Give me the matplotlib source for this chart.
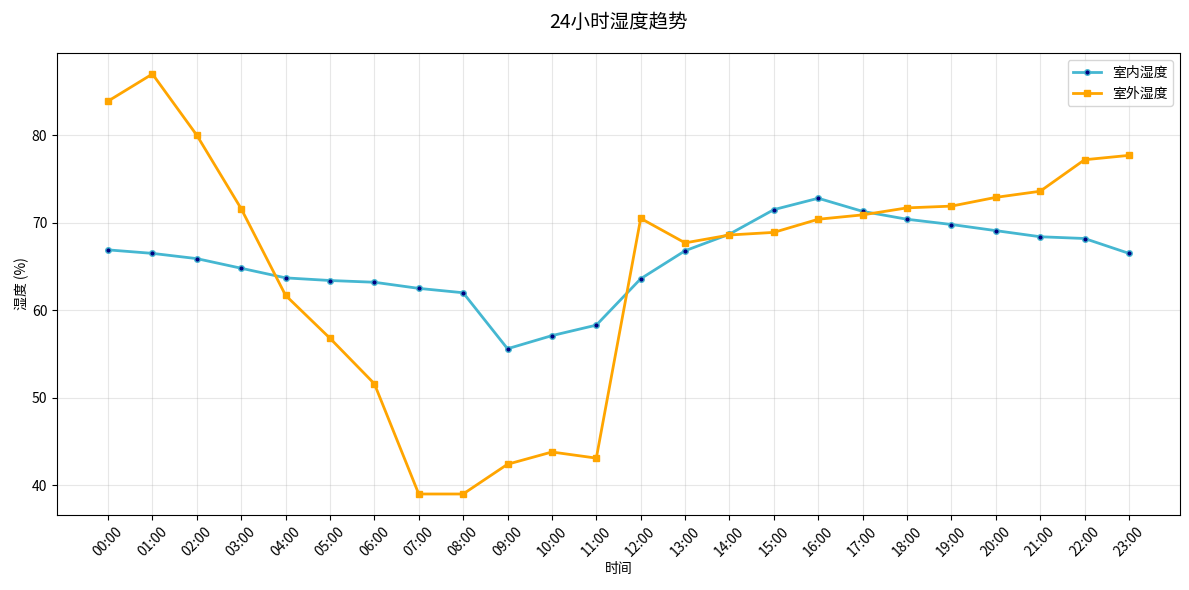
import matplotlib
matplotlib.use("Agg")
import matplotlib.pyplot as plt

plt.rcParams['font.family'] = ['Noto Sans CJK SC', 'DejaVu Sans']
plt.rcParams['axes.unicode_minus'] = False

hours = [f"{h:02d}:00" for h in range(24)]
indoor = [66.9, 66.5, 65.9, 64.8, 63.7, 63.4, 63.2, 62.5, 62.0, 55.6, 57.1, 58.3,
          63.6, 66.8, 68.7, 71.5, 72.8, 71.3, 70.4, 69.8, 69.1, 68.4, 68.2, 66.5]
outdoor = [83.9, 87.0, 80.0, 71.6, 61.7, 56.8, 51.6, 39.0, 39.0, 42.4, 43.8, 43.1,
           70.5, 67.7, 68.6, 68.9, 70.4, 70.9, 71.7, 71.9, 72.9, 73.6, 77.2, 77.7]

fig, ax = plt.subplots(figsize=(11.89, 5.90), dpi=100)
x = list(range(len(hours)))
ax.plot(x, indoor, color='#45B7D1', linewidth=2, marker='o', markersize=4,
        markerfacecolor='navy', markeredgecolor='#45B7D1', label='室内湿度')
ax.plot(x, outdoor, color='orange', linewidth=2, marker='s', markersize=5,
        label='室外湿度')
ax.set_xticks(x)
ax.set_xticklabels(hours, rotation=45)
ax.set_xlabel('时间', labelpad=2)
ax.set_ylabel('湿度 (%)', labelpad=2)
ax.set_title('24小时湿度趋势', fontsize=14, pad=18)
ax.grid(True, alpha=0.3)
ax.legend(loc='upper right')
fig.subplots_adjust(left=57/1189, right=1180/1189, top=1-53/590, bottom=1-515/590)
fig.savefig('out.png', dpi=100)
